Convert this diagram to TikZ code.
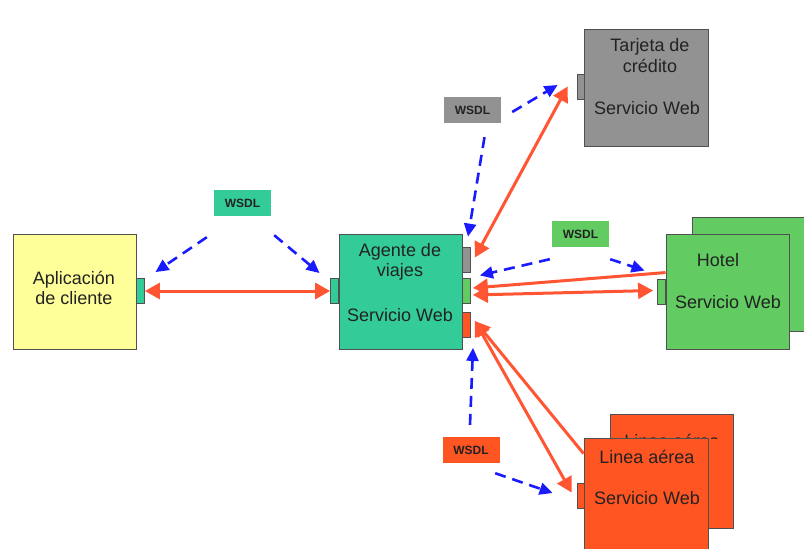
\documentclass[tikz,border=0pt]{standalone}
\usepackage{fontspec}
\setmainfont{Liberation Sans}
\usetikzlibrary{arrows.meta,calc}

\definecolor{clientfill}{HTML}{FFFF99}
\definecolor{agentfill}{HTML}{33CC99}
\definecolor{cardfill}{HTML}{929292}
\definecolor{hotelfill}{HTML}{62CC62}
\definecolor{airfill}{HTML}{FF5522}
\definecolor{boxline}{HTML}{505050}
\definecolor{msgred}{HTML}{FF5533}
\definecolor{wsdlblue}{HTML}{1A1AFF}
\definecolor{labeltext}{HTML}{222222}

\tikzset{
  svcbox/.style={draw=boxline, line width=0.9pt, inner sep=0pt,
    minimum width=#1, minimum height=115pt},
  svcbox/.default=123pt,
  portbox/.style={draw=boxline, line width=0.8pt, inner sep=0pt,
    minimum width=8pt, minimum height=25pt},
  wsdlbox/.style={inner sep=0pt, minimum width=57pt, minimum height=26pt,
    font=\fontsize{12}{12}\selectfont\bfseries, text=labeltext},
  boxtext/.style={align=center, text=labeltext,
    font=\fontsize{18}{20.5}\selectfont, inner sep=0pt},
  msg/.style={draw=msgred, line width=3pt},
  msgback/.style={{Triangle[length=15pt,width=16pt]}-},
  msgtips/.style={{Triangle[length=15pt,width=16pt]}-{Triangle[length=15pt,width=16pt]}},
  desc/.style={draw=wsdlblue, line width=2.6pt, dash pattern=on 11pt off 7pt,
    -{Triangle[length=13pt,width=12pt]}},
}

\begin{document}
\begin{tikzpicture}[x=1pt,y=-1pt]
\useasboundingbox (0,0) rectangle (804,549);
\fill[white] (0,0) rectangle (804,549);

\begin{scope}
\clip (0,0) rectangle (804,549);

% client application
\node[svcbox, fill=clientfill] (client) at (74.5,292) {};
\node[portbox, fill=agentfill] (cport) at (140.5,291) {};
\node[boxtext] (clienttxt) at (74,288) {Aplicación\\de cliente};

% travel agent service
\node[svcbox, fill=agentfill] (agent) at (400.5,292) {};
\node[portbox, fill=agentfill] (alport) at (334.5,291) {};
\node[portbox, fill=cardfill] (gport) at (466.5,259.5) {};
\node[portbox, fill=hotelfill] (gnport) at (466.5,291) {};
\node[portbox, fill=airfill] (rport) at (466.5,325) {};
\node[boxtext] (agenttxt) at (400,262) {Agente de\\viajes};
\node[boxtext] (agentsvc) at (400,315) {Servicio Web};

% credit card service
\node[svcbox=124pt, fill=cardfill, minimum height=117pt] (card) at (646,87.5) {};
\node[portbox, fill=cardfill, minimum width=7pt] (cardport) at (580.5,86.5) {};
\node[boxtext] (cardtxt) at (650,55.5) {Tarjeta de\\crédito};
\node[boxtext] (cardsvc) at (647,108) {Servicio Web};

% hotel services
\node[svcbox=124pt, fill=hotelfill, minimum height=114pt] (hotelback) at (754,274) {};
\node[svcbox, fill=hotelfill] (hotel) at (727.5,291.5) {};
\node[portbox, fill=hotelfill] (hport) at (661.5,291.5) {};
\node[boxtext] (hoteltxt) at (718,260) {Hotel};
\node[boxtext] (hotelsvc) at (728,302) {Servicio Web};

% airline services: the rear copy's title peeks out above the front copy
\node[svcbox, fill=airfill, minimum height=114pt] (airback) at (671.5,471) {};
\begin{scope}
\clip (610,414) rectangle (733,438);
\node[boxtext] (airbacktxt) at (672,441) {Linea aérea};
\end{scope}
\node[svcbox=124pt, fill=airfill] (air) at (646,495.5) {};
\node[portbox, fill=airfill, minimum width=7pt] (aport) at (580.5,495.5) {};
\node[boxtext] (airtxt) at (647,457) {Linea aérea};
\node[boxtext] (airsvc) at (647,498) {Servicio Web};
\end{scope}

% WSDL descriptions
\node[wsdlbox, fill=agentfill] (w1) at (242.5,203) {WSDL};
\node[wsdlbox, fill=cardfill] (w2) at (472.5,110) {WSDL};
\node[wsdlbox, fill=hotelfill] (w3) at (580.5,234) {WSDL};
\node[wsdlbox, fill=airfill] (w4) at (471,450) {WSDL};

% message exchanges
\draw[msg, msgtips] (cport.east) -- (alport.west);
\draw[msg, msgtips] ($(gport.east)+(4,-2)$) -- ($(cardport.west)+(-9,0)$);
\draw[msg, msgback] ($(gnport.east)+(2,-3)$) -- ($(hotel.north west)+(0,39)$);
\draw[msg, msgtips] ($(gnport.east)+(2,4)$) -- ($(hport.west)+(-4,-1)$);
\draw[msg, msgback] ($(rport.east)+(4,-4)$) -- ($(air.north west)+(0,16)$);
\draw[msg, msgtips] ($(rport.east)+(4,-4)$) -- ($(aport.west)+(-5,-3)$);

% service descriptions handed out
\draw[desc] ($(w1.south west)+(-7,21)$) -- ($(client.north east)+(19,38)$);
\draw[desc] ($(w1.south east)+(3,19)$) -- ($(agent.north west)+(-19,39)$);
\draw[desc] ($(w2.south)+(12,14)$) -- ($(gport.north)+(1.5,-10)$);
\draw[desc] ($(w2.east)+(11,2)$) -- ($(cardport.west)+(-19,-1.5)$);
\draw[desc] ($(w3.south west)+(-2,12)$) -- ($(gport.south east)+(9,3)$);
\draw[desc] ($(w3.south east)+(1,12)$) -- ($(hotel.north west)+(-21,37)$);
\draw[desc] ($(w4.north)+(-1,-12)$) -- ($(rport.south)+(6.5,10)$);
\draw[desc] ($(w4.south east)+(-4.5,10)$) -- ($(aport.west)+(-24,-2.5)$);
\end{tikzpicture}
\end{document}
